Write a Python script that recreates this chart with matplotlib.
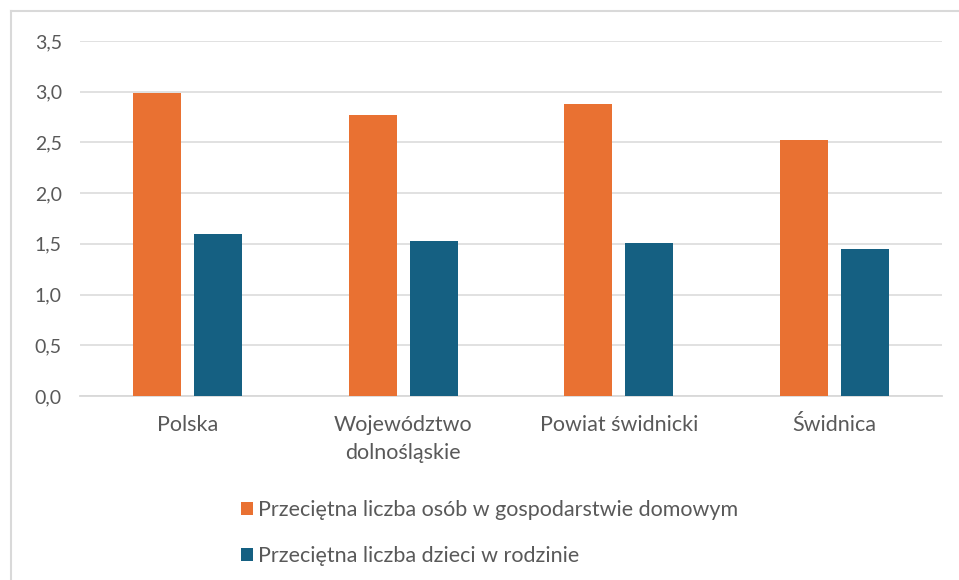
import matplotlib.pyplot as plt
import numpy as np
from matplotlib.lines import Line2D

# dane
kategorie = ['Polska', 'Województwo\ndolnośląskie', 'Powiat świdnicki', 'Świdnica']
osoby_gosp = [2.99, 2.77, 2.88, 2.52]
dzieci_rodz = [1.60, 1.53, 1.51, 1.45]
nazwy_serii = ['Przeciętna liczba osób w gospodarstwie domowym',
               'Przeciętna liczba dzieci w rodzinie']

kol_pom = '#E97132'
kol_nieb = '#156082'
szary = '#595959'

plt.rcParams['font.family'] = ['Lato', 'DejaVu Sans']

fig = plt.figure(figsize=(9.59, 5.80), dpi=100)
ax = fig.add_axes([80 / 959, 1 - 396 / 580, 862 / 959, 355 / 580])

x = np.arange(len(kategorie))
w = 0.223
off = 0.1415
ax.bar(x - off, osoby_gosp, w, color=kol_pom, label=nazwy_serii[0], zorder=3)
ax.bar(x + off, dzieci_rodz, w, color=kol_nieb, label=nazwy_serii[1], zorder=3)

ax.set_xlim(-0.5, len(kategorie) - 0.5)
ax.set_ylim(0, 3.5)
ax.set_yticks(np.arange(0, 3.51, 0.5))
ax.set_yticklabels([f'{v:.1f}'.replace('.', ',') for v in np.arange(0, 3.51, 0.5)])
ax.set_xticks(x)
ax.set_xticklabels(kategorie, linespacing=1.45)

ax.grid(axis='y', color='#D9D9D9', linewidth=1.1, zorder=0)
for s in ['top', 'right', 'left']:
    ax.spines[s].set_visible(False)
ax.spines['bottom'].set_color('#D9D9D9')
ax.spines['bottom'].set_linewidth(1.3)
ax.tick_params(axis='both', length=0, labelcolor=szary)
ax.tick_params(axis='x', labelsize=15.5, pad=14)
ax.tick_params(axis='y', labelsize=14, pad=13)

# ramka wykresu (tylko lewa i gorna krawedz widoczna)
fig.add_artist(Line2D([10.5 / 959, 10.5 / 959], [0, 1 - 10.5 / 580], transform=fig.transFigure,
                      color='#D9D9D9', linewidth=1.5))
fig.add_artist(Line2D([10.5 / 959, 1], [1 - 10.5 / 580, 1 - 10.5 / 580], transform=fig.transFigure,
                      color='#D9D9D9', linewidth=1.5))

fig.legend(loc='upper left', bbox_to_anchor=(222 / 959, 1 - 481 / 580), frameon=False,
           fontsize=15.5, labelcolor=szary, handlelength=0.55, handleheight=0.55,
           handletextpad=0.2, labelspacing=1.2)

fig.savefig('out.png', dpi=100)
